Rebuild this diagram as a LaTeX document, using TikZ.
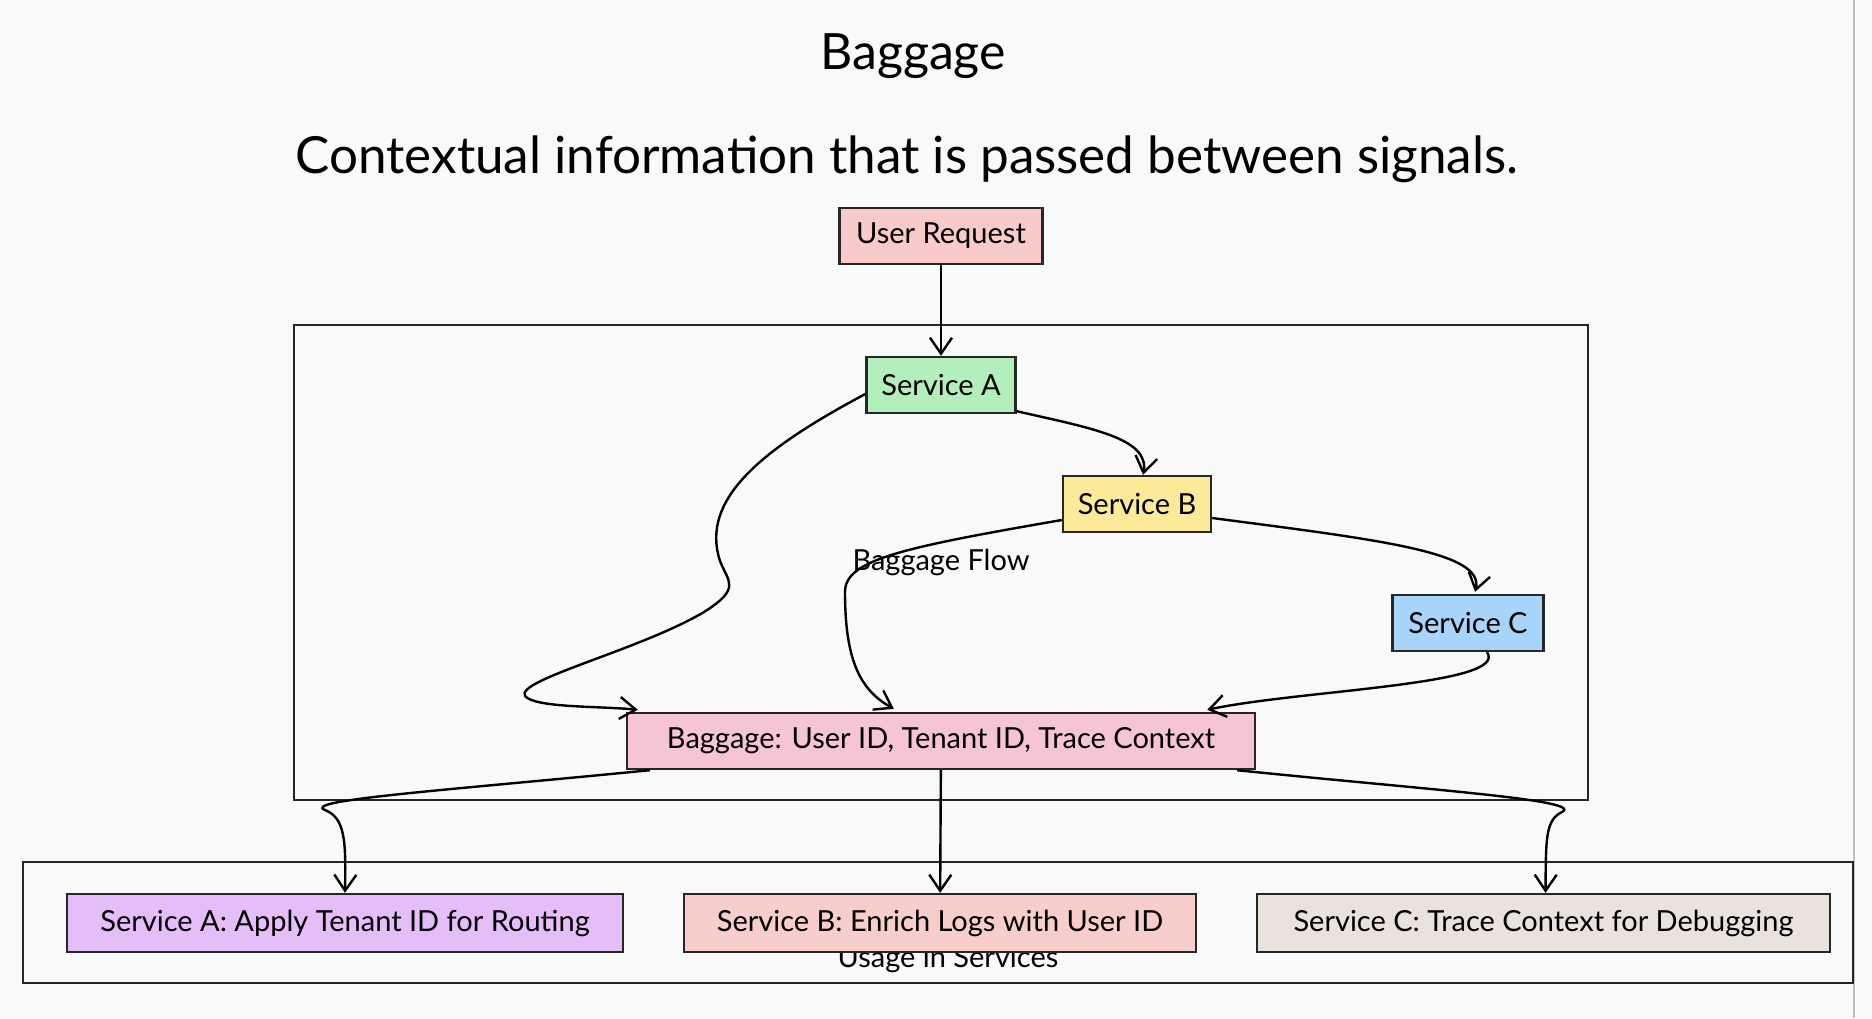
\documentclass[tikz,border=0pt]{standalone}
\usepackage{fontspec}
\setmainfont{Lato}
\usepackage{xcolor}
\usepackage{tikz}
\usetikzlibrary{arrows.meta}
\usetikzlibrary{calc}

\definecolor{pagebg}{HTML}{F8F9F9}
\definecolor{reqfill}{HTML}{F8CACA}
\definecolor{afill}{HTML}{B3EFBC}
\definecolor{bfill}{HTML}{FCE99A}
\definecolor{cfill}{HTML}{A7D5F9}
\definecolor{bagfill}{HTML}{F5C4D6}
\definecolor{usafill}{HTML}{E5BDF8}
\definecolor{usbfill}{HTML}{F7CECB}
\definecolor{uscfill}{HTML}{EAE2DD}

\begin{document}
\begin{tikzpicture}[x=0.5pt,y=-0.5pt,
        box/.style={draw=black!85,line width=1.2pt,inner sep=0pt,minimum height=28pt,font=\fontsize{14.5}{17}\selectfont},
        flow/.style={->,line width=1.2pt,-{Straight Barb[length=8pt,width=11pt]}},
        frame/.style={draw=black!85,line width=1.2pt}]
        \fill[pagebg] (0,0) rectangle (1872,1018);
        \useasboundingbox (0,0) rectangle (1872,1018);
        \draw[black!25,line width=1pt] (1854,0)--(1854,1018);

        % title
        \node (title) at (913,56) {\fontsize{25}{29}\selectfont Baggage};
        \node (subtitle) at (907,159) {\fontsize{25.6}{30}\selectfont Contextual information that is passed between signals.};

        % containers
        \draw[frame] (294,325) rectangle (1588,800);
        \draw[frame] (23,862) rectangle (1853,983);
        \node[font=\fontsize{14.5}{17}\selectfont] (flowlbl) at (941,562) {Baggage Flow};
        \node[font=\fontsize{14.5}{17}\selectfont] (uselbl) at (948,960) {Usage in Services};

        % services
        \node[box,fill=reqfill,minimum width=101.5pt] (req) at (941,236) {User Request};
        \node[box,fill=afill,minimum width=74.5pt] (srva) at (941,385) {Service A};
        \node[box,fill=bfill,minimum width=74pt] (srvb) at (1137,504) {Service B};
        \node[box,fill=cfill,minimum width=75.5pt] (srvc) at (1468,623) {Service C};
        \node[box,fill=bagfill,minimum width=314pt] (bag) at (941,741) {Baggage: User ID, Tenant ID, Trace Context};

        % usage
        \node[box,fill=usafill,minimum width=278pt,minimum height=29pt] (usea) at (345,923) {Service A: Apply Tenant ID for Routing};
        \node[box,fill=usbfill,minimum width=256pt,minimum height=29pt] (useb) at (940,923) {Service B: Enrich Logs with User ID};
        \node[box,fill=uscfill,minimum width=286.5pt,minimum height=29pt] (usec) at (1543.5,923) {Service C: Trace Context for Debugging};

        \draw[flow] (req)--(srva);
        \draw[flow] ($(srva.south east)+(0,-3)$) .. controls (1090,428) and (1150,438) .. ($(srvb.north)+(6,0)$);
        \draw[flow] ($(srva.west)+(0,9)$) .. controls (760,450) and (700,500) .. (720,561)
            .. controls (728,582) and (742,588) .. (704,612)
            .. controls (640,650) and (515,680) .. (525,696)
            .. controls (535,708) and (600,706) .. ($(bag.north west)+(12,-2)$);
        \draw[flow] ($(srvb.west)+(0,16)$) .. controls (900,548) and (845,560) .. (845,592)
            .. controls (845,660) and (860,690) .. ($(bag.north west)+(268,-3)$);
        \draw[flow] ($(srvb.east)+(0,14)$) .. controls (1380,540) and (1485,552) .. ($(srvc.north)+(7,-2)$);
        \draw[flow] ($(srvc.south)+(19,0)$) .. controls (1510,685) and (1300,690) .. ($(bag.north east)+(-49,-2)$);

        \draw[flow] ($(bag.south west)+(24,0)$) .. controls (450,790) and (300,800) .. (325,810)
            .. controls (345,818) and (346,840) .. (usea.north);
        \draw[flow] (bag)--(useb);
        \draw[flow] ($(bag.south east)+(-19,0)$) .. controls (1430,790) and (1585,800) .. (1562,812)
            .. controls (1545,820) and (1546,840) .. ($(usec.north)+(2,0)$);
    \end{tikzpicture}
\end{document}
